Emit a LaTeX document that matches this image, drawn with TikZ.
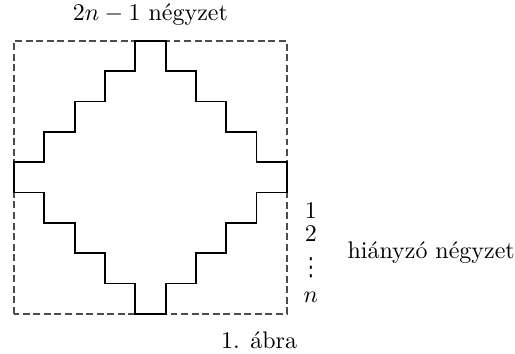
\documentclass[tikz,border=0pt]{standalone}
\usepackage{amsmath,amssymb}
\usepackage{fontspec}
\usepackage{tikz}
\usetikzlibrary{positioning}
\newfontfamily\symfont{DejaVu Sans}

\begin{document}
\begin{tikzpicture}[x=12.65pt, y=12.65pt]
    \useasboundingbox (-0.46,-1.32) rectangle (16.52,10.35);

    % Dashed square
    \draw[black!70, line width=0.55pt, dash pattern=on 2.9pt off 1.5pt] (0,0) rectangle (9,9);

    % Staircase
    \draw[line width=0.75pt] (4,9) -- (5,9) -- (5,8) -- (6,8) -- (6,7) -- (7,7) -- (7,6) -- (8,6) -- (8,5) -- (9,5)
        -- (9,4) -- (8,4) -- (8,3) -- (7,3) -- (7,2) -- (6,2) -- (6,1) -- (5,1) -- (5,0) -- (4,0)
        -- (4,1) -- (3,1) -- (3,2) -- (2,2) -- (2,3) -- (1,3) -- (1,4) -- (0,4) -- (0,5)
        -- (1,5) -- (1,6) -- (2,6) -- (2,7) -- (3,7) -- (3,8) -- (4,8) -- cycle;

    % Labels
    \node (top) at (4.5, 9.86) {$2n-1$ négyzet};
    \node (caption) at (8.08, -0.86) {1. ábra};

    \node[inner sep=0pt] (row1) at (9.79, 3.40) {1};
    \node[inner sep=0pt] (row2) at (9.79, 2.64) {2};
    \node[inner sep=0pt, yscale=1.3, font=\symfont\fontsize{8}{8}\selectfont] (rowdots) at (9.79, 1.52) {⋮};
    \node[inner sep=0pt] (rown) at (9.79, 0.56) {$n$};
    \node[anchor=base west] (missing) at (10.72, 1.83) {hiányzó négyzet};
\end{tikzpicture}
\end{document}
